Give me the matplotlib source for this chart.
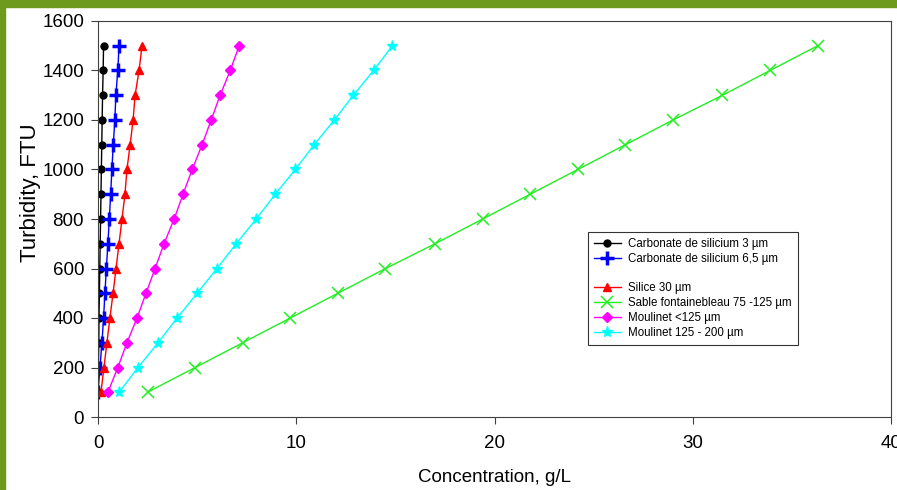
import matplotlib
matplotlib.use('Agg')
import matplotlib.pyplot as plt
from matplotlib.patches import Rectangle

plt.rcParams['font.family'] = ['Liberation Sans', 'DejaVu Sans']

# turbidité (FTU)
turbidity = [100, 200, 300, 400, 500, 600, 700, 800, 900, 1000, 1100, 1200, 1300, 1400, 1500]

# concentrations (g/L)
carb_3 = [0.0, 0.02, 0.04, 0.05, 0.07, 0.09, 0.11, 0.13, 0.15, 0.17, 0.19, 0.21, 0.23, 0.26, 0.28]
carb_65 = [0.0, 0.1, 0.2, 0.28, 0.35, 0.42, 0.5, 0.57, 0.64, 0.7, 0.77, 0.85, 0.9, 1.0, 1.06]
silice_30 = [0.15, 0.3, 0.45, 0.6, 0.76, 0.91, 1.06, 1.21, 1.36, 1.46, 1.62, 1.77, 1.87, 2.07, 2.22]
sable = [2.5, 4.9, 7.3, 9.7, 12.1, 14.5, 17.0, 19.4, 21.8, 24.2, 26.6, 29.0, 31.5, 33.9, 36.3]
moulinet_125 = [0.5, 1.0, 1.46, 1.97, 2.42, 2.88, 3.33, 3.84, 4.29, 4.75, 5.25, 5.71, 6.16, 6.67, 7.12]
moulinet_200 = [1.06, 2.02, 3.03, 3.99, 5.0, 6.0, 6.97, 7.98, 8.94, 9.95, 10.9, 11.92, 12.88, 13.9, 14.85]

fig = plt.figure(figsize=(8.97, 4.9), dpi=100)
ax = fig.add_axes([98 / 897, 73 / 490, 793 / 897, 396 / 490])

# cadre vert de la diapo
green = '#6e9a1e'
fig.patches.append(Rectangle((0, 1 - 7 / 490), 1, 7 / 490, transform=fig.transFigure,
                             color=green, zorder=0))
fig.patches.append(Rectangle((0, 0), 5 / 897, 1, transform=fig.transFigure,
                             color=green, zorder=0))

ax.plot(carb_3, turbidity, color='black', marker='o', markersize=5, lw=1,
        label='Carbonate de silicium 3 µm')
ax.plot(carb_65, turbidity, color='blue', marker='+', markersize=10, mew=2.5, lw=1,
        label='Carbonate de silicium 6,5 µm')
ax.plot([], [], color='none', label=' ')
ax.plot(silice_30, turbidity, color='red', marker='^', markersize=6, lw=1,
        label='Silice 30 µm')
ax.plot(sable, turbidity, color='#22ee22', marker='x', markersize=8, mew=1.1, lw=1,
        label='Sable fontainebleau 75 -125 µm')
ax.plot(moulinet_125, turbidity, color='magenta', marker='D', markersize=5.5, lw=1,
        label='Moulinet <125 µm')
ax.plot(moulinet_200, turbidity, color='cyan', marker='*', markersize=8, lw=1,
        label='Moulinet 125 - 200 µm')

ax.set_xlim(0, 40)
ax.set_ylim(0, 1600)
ax.set_xticks([0, 10, 20, 30, 40])
ax.set_yticks(range(0, 1601, 200))
ax.tick_params(labelsize=13.5, length=5, color='#404040', pad=5)
ax.tick_params(axis='x', pad=8)
for s in ax.spines.values():
    s.set_color('#404040')

ax.set_xlabel('Concentration, g/L', fontsize=13.5, labelpad=12)
ax.set_ylabel('Turbidity, FTU', fontsize=16)
ax.yaxis.set_label_coords(-0.072, 0.566)

handles, labels = ax.get_legend_handles_labels()
leg = ax.legend(handles, labels, loc='upper left', bbox_to_anchor=(484 / 793, 191 / 396),
                fontsize=8.3, frameon=True, fancybox=False, edgecolor='black',
                labelspacing=0.24, handlelength=2.3, handletextpad=0.6, borderpad=0.55)
leg.get_frame().set_linewidth(0.8)

plt.savefig('out.png', dpi=100)
